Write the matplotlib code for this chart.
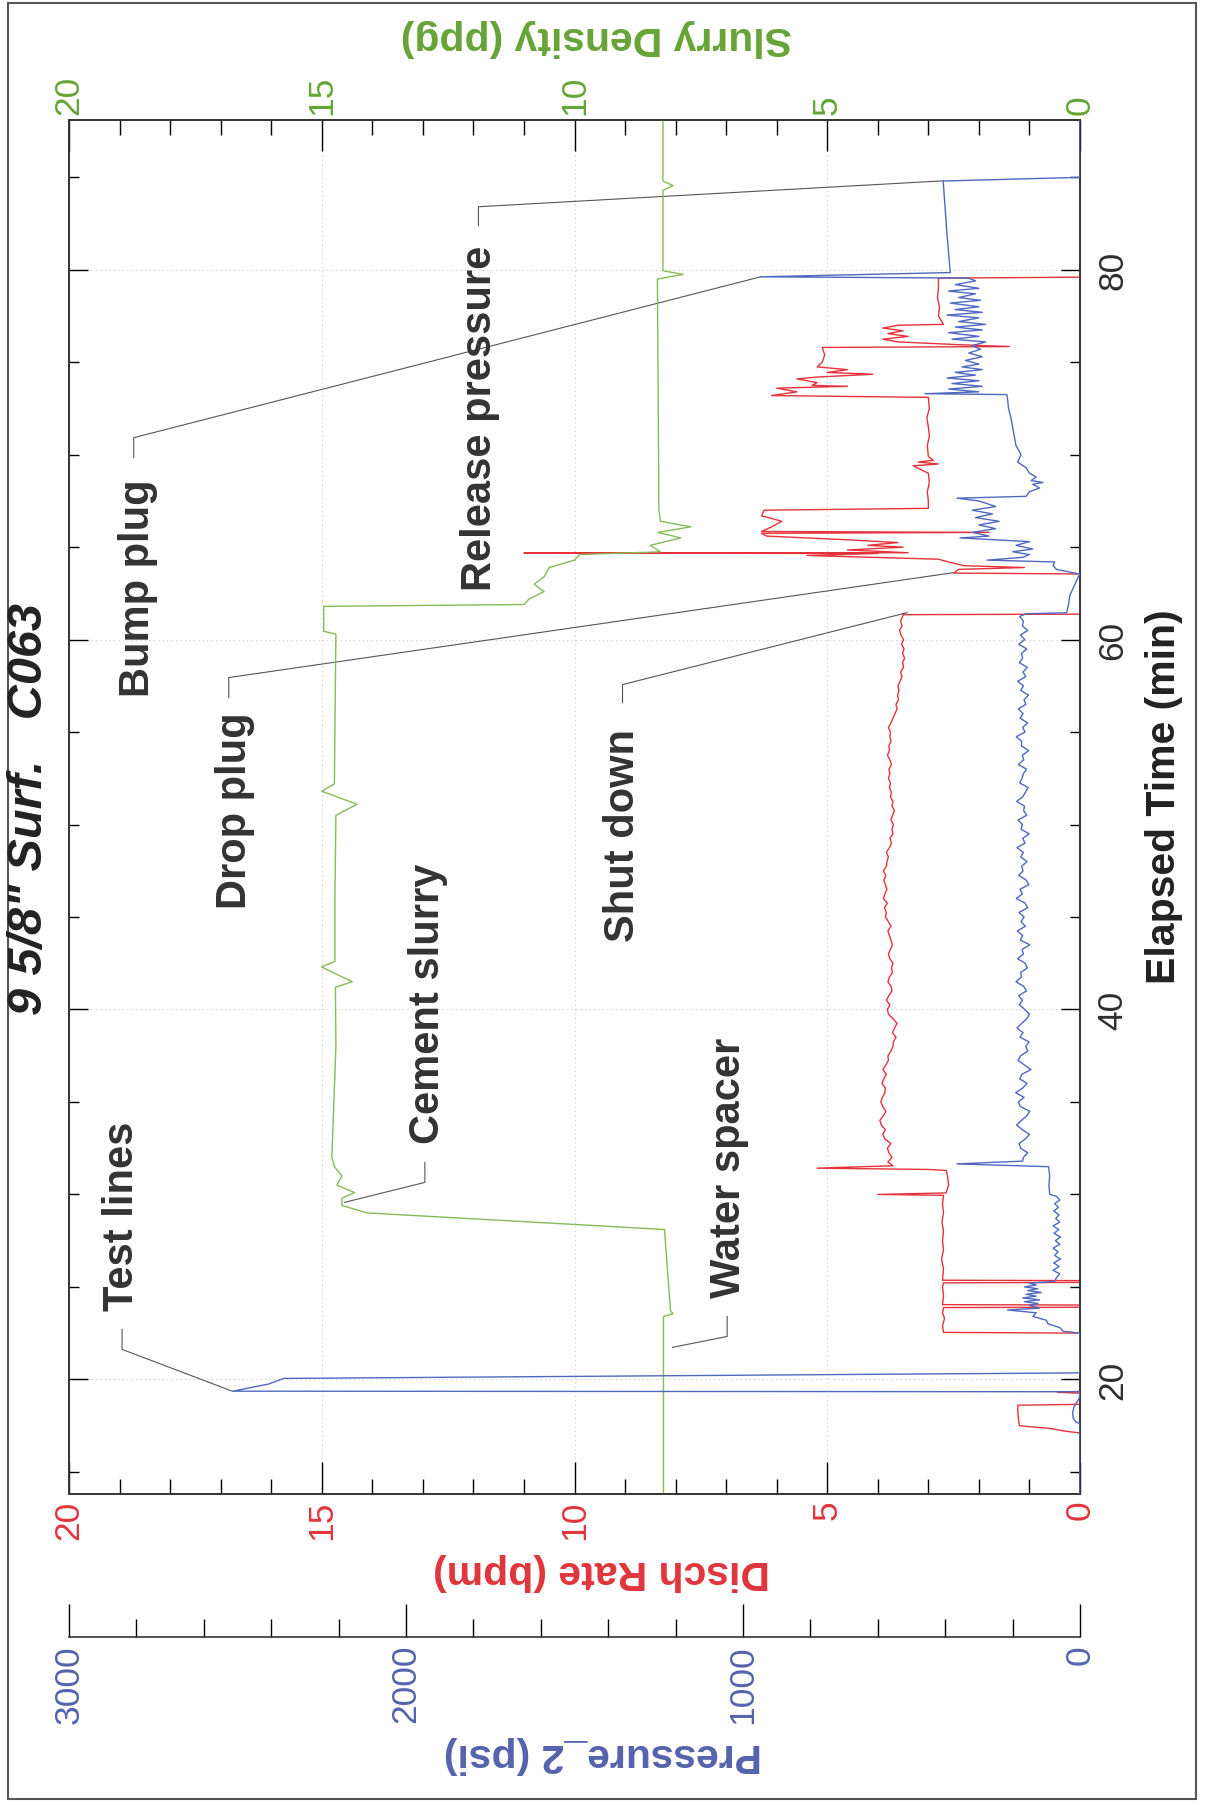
import numpy as np
import matplotlib.pyplot as plt
from matplotlib.ticker import MultipleLocator, FixedLocator
from matplotlib.patches import Rectangle

plt.rcParams['font.family'] = ['Liberation Sans', 'DejaVu Sans']

# ---------------- data ----------------
# slurry density (ppg) : (elapsed min, ppg)
density = [(13.8, 8.24), (23.4, 8.24), (23.55, 8.05), (23.7, 8.1), (28.1, 8.22),
           (28.3, 9.5), (29.0, 14.1), (29.4, 14.6), (29.8, 14.6), (30.1, 14.35),
           (30.5, 14.7), (31.0, 14.6), (31.5, 14.75), (32.0, 14.8), (35.0, 14.76),
           (38.0, 14.72), (41.2, 14.73), (41.5, 14.4), (42.3, 15.0), (42.6, 14.74),
           (46.0, 14.74), (50.5, 14.72), (51.1, 14.3), (51.8, 15.0), (52.2, 14.75),
           (55.0, 14.74), (60.3, 14.72), (60.45, 14.96), (61.8, 14.96), (61.9, 11.0),
           (62.2, 10.9), (62.6, 10.6), (63.0, 10.8), (63.4, 10.6), (63.9, 10.5),
           (64.3, 10.0), (64.6, 9.9), (64.75, 8.3), (65.1, 8.5), (65.5, 7.9),
           (65.8, 8.35), (66.1, 7.7), (66.4, 8.3), (67.0, 8.33), (79.5, 8.36),
           (79.75, 7.85), (79.95, 8.25), (84.3, 8.25), (84.55, 8.05), (84.8, 8.25),
           (88.1, 8.25)]

# disch rate (bpm) before and after the cement stage
rate_pre = [(13.8, 0), (17.1, 0), (17.2, 0.3), (17.35, 0.6), (17.45, 1.05), (17.5, 1.2),
            (17.9, 1.22), (18.3, 1.23), (18.6, 1.23), (18.65, 0), (19.25, 0), (19.3, 0.45),
            (19.35, 0), (22.5, 0), (22.54, 2.7), (22.9, 2.72), (23.3, 2.68), (23.6, 2.72),
            (23.88, 2.7), (23.9, 0), (24.02, 0), (24.04, 2.72), (24.5, 2.7), (25.0, 2.72),
            (25.22, 2.7), (25.24, 0), (25.34, 0), (25.36, 2.72), (26.0, 2.7), (26.5, 2.74),
            (27.0, 2.7), (27.5, 2.72), (28.0, 2.7), (28.5, 2.73), (29.0, 2.7), (29.5, 2.72),
            (29.95, 2.7), (30.0, 4.0), (30.08, 2.65), (30.5, 2.6), (31.0, 2.62), (31.3, 2.65),
            (31.35, 3.0), (31.42, 5.2), (31.55, 3.7), (31.75, 3.8)]
rate_post = [(61.35, 3.5), (61.38, 0), (63.55, 0), (63.6, 2.5), (63.8, 2.4), (63.9, 1.1),
             (64.0, 2.3), (64.2, 2.6), (64.35, 2.8), (64.55, 5.4), (64.66, 4.0), (64.68, 11.0),
             (64.70, 3.4), (64.85, 4.6), (65.0, 3.5), (65.1, 4.2), (65.25, 3.6), (65.4, 4.6),
             (65.6, 6.2), (65.75, 6.3), (65.8, 1.8), (65.85, 6.3), (66.1, 6.1), (66.4, 5.9),
             (66.7, 6.3), (67.0, 6.25), (67.1, 3.0), (67.5, 3.0), (68.0, 3.02), (68.5, 2.98),
             (69.0, 3.0), (69.4, 3.3), (69.5, 2.8), (69.6, 3.2), (69.7, 2.9), (69.9, 3.0),
             (70.5, 3.02), (71.0, 2.98), (71.5, 3.0), (72.0, 3.03), (72.5, 2.98), (73.1, 3.0),
             (73.2, 6.1), (73.4, 5.6), (73.6, 6.0), (73.7, 4.6), (73.75, 5.3), (73.9, 5.2),
             (74.1, 5.6), (74.2, 5.2), (74.35, 4.1), (74.45, 5.0), (74.6, 4.6), (74.75, 5.2),
             (75.0, 5.1), (75.4, 5.05), (75.8, 5.1), (75.85, 1.4), (75.95, 2.4), (76.1, 3.6),
             (76.25, 3.9), (76.4, 3.4), (76.55, 3.8), (76.7, 3.5), (76.85, 3.9), (77.0, 3.6),
             (77.05, 2.7), (77.5, 2.8), (78.0, 2.78), (78.5, 2.82), (79.0, 2.8), (79.55, 2.8),
             (79.6, 0), (88.1, 0)]

# pressure_2 (psi) before and after the cement stage
pres_pre = [(13.8, 0), (17.6, 0), (17.7, 12), (17.9, 20), (18.2, 22), (18.5, 18), (18.8, 8),
            (19.0, 2), (19.33, 0), (19.36, 2514), (19.75, 2407), (20.05, 2363), (20.35, 0),
            (22.5, 0), (22.6, 50), (22.8, 60), (23.0, 95), (23.2, 100), (23.4, 140), (23.6, 130),
            (23.75, 215), (23.85, 120), (24.0, 150), (24.1, 125), (24.2, 165), (24.3, 120),
            (24.4, 170), (24.5, 130), (24.6, 160), (24.7, 115), (24.8, 155), (24.9, 125),
            (25.0, 165), (25.1, 130), (25.2, 150), (25.3, 75), (25.5, 70), (25.7, 60), (25.9, 80),
            (26.1, 62), (26.3, 78), (26.5, 58), (26.7, 75), (26.9, 65), (27.1, 80), (27.3, 60),
            (27.5, 73), (27.7, 58), (27.9, 77), (28.1, 63), (28.3, 80), (28.5, 60), (28.7, 72),
            (28.9, 62), (29.1, 78), (29.3, 64), (29.5, 75), (29.7, 60), (29.9, 70), (30.0, 90),
            (30.5, 92), (31.0, 90), (31.5, 93), (31.65, 365), (31.8, 170)]
pres_post = [(61.4, 160), (61.45, 40), (61.8, 35), (62.4, 30), (63.0, 15), (63.4, 5), (63.55, 0),
             (63.65, 30), (63.8, 70), (64.0, 80), (64.2, 75), (64.3, 276), (64.45, 170),
             (64.6, 150), (64.75, 200), (64.9, 140), (65.1, 190), (65.3, 150), (65.5, 356),
             (65.6, 270), (65.8, 320), (66.0, 250), (66.2, 300), (66.4, 240), (66.6, 310),
             (66.8, 260), (67.0, 320), (67.2, 250), (67.5, 300), (67.65, 365), (67.75, 160),
             (68.0, 150), (68.2, 120), (68.4, 140), (68.5, 110), (68.6, 145), (68.8, 130),
             (69.0, 150), (69.3, 160), (69.6, 185), (70.0, 175), (70.5, 190), (71.0, 195),
             (71.5, 200), (72.0, 205), (72.5, 212), (73.0, 215), (73.25, 217), (73.3, 460),
             (73.4, 300), (73.55, 390), (73.7, 290), (73.85, 380), (74.0, 300), (74.15, 395),
             (74.3, 310), (74.45, 370), (74.6, 290), (74.75, 350), (74.9, 300), (75.1, 340),
             (75.3, 290), (75.5, 330), (75.7, 295), (75.9, 320), (76.1, 280), (76.25, 380),
             (76.4, 300), (76.6, 390), (76.75, 290), (76.9, 370), (77.05, 280), (77.2, 360),
             (77.4, 300), (77.55, 395), (77.7, 290), (77.85, 370), (78.0, 300), (78.2, 385),
             (78.35, 295), (78.5, 360), (78.7, 310), (78.85, 390), (79.0, 300), (79.2, 370),
             (79.4, 310), (79.55, 330), (79.62, 949), (79.85, 385), (82.0, 395), (84.8, 406),
             (85.0, 0), (88.1, 0)]

# cement stage, sampled every 15 s
cement_t = np.arange(32.0, 61.3, 0.25)
cement_rate = [3.72, 3.78, 3.81, 3.74, 3.86, 3.90, 3.85, 3.93, 3.96, 3.89, 3.84, 3.90,
               3.94, 3.91, 3.86, 3.85, 3.92, 3.88, 3.83, 3.90, 3.84, 3.79, 3.80, 3.74,
               3.70, 3.69, 3.64, 3.71, 3.67, 3.62, 3.70, 3.79, 3.81, 3.76, 3.83, 3.78,
               3.72, 3.74, 3.80, 3.77, 3.71, 3.73, 3.70, 3.76, 3.79, 3.75, 3.71, 3.74,
               3.77, 3.80, 3.74, 3.79, 3.85, 3.83, 3.87, 3.81, 3.89, 3.86, 3.82, 3.85,
               3.88, 3.84, 3.89, 3.83, 3.82, 3.79, 3.83, 3.77, 3.73, 3.76, 3.70, 3.72,
               3.69, 3.74, 3.71, 3.67, 3.72, 3.70, 3.75, 3.73, 3.77, 3.75, 3.79, 3.76,
               3.78, 3.73, 3.76, 3.81, 3.77, 3.78, 3.74, 3.76, 3.75, 3.79, 3.74, 3.70,
               3.66, 3.62, 3.64, 3.59, 3.61, 3.58, 3.60, 3.56, 3.52, 3.55, 3.49, 3.51,
               3.47, 3.51, 3.48, 3.53, 3.49, 3.54, 3.57, 3.52, 3.55, 3.51]
cement_pres = [168, 155, 176, 181, 162, 150, 171, 188, 174, 158, 149, 177,
               183, 166, 191, 170, 157, 179, 172, 146, 165, 184, 176, 155,
               161, 151, 178, 169, 187, 173, 158, 150, 164, 180, 171, 182,
               159, 167, 190, 174, 176, 156, 163, 185, 168, 172, 149, 177,
               170, 186, 162, 175, 166, 181, 155, 163, 189, 171, 178, 152,
               160, 182, 169, 173, 157, 176, 168, 187, 163, 170, 151, 175,
               171, 184, 158, 167, 165, 188, 170, 162, 154, 179, 172, 168,
               159, 183, 167, 171, 152, 174, 173, 189, 163, 170, 155, 178,
               169, 183, 161, 166, 153, 176, 168, 185, 161, 169, 156, 180,
               170, 174, 158, 182, 164, 177, 155, 171, 168, 179]

# event notes: text, (rate, time) of text centre, leader points
notes = [
    ('Test lines', 18.95, 28.86, [(18.95, 22.70), (18.95, 21.62), (16.76, 19.35)]),
    ('Water spacer', 6.94, 31.51, [(6.98, 23.41), (6.98, 22.32), (8.06, 21.73)]),
    ('Cement slurry', 12.89, 40.38, [(12.96, 31.73), (12.96, 30.65), (14.55, 29.57)]),
    ('Drop plug', 16.72, 50.81, [(16.84, 56.86), (16.84, 57.95), (2.51, 63.62)]),
    ('Shut down', 9.05, 49.46, [(9.05, 56.59), (9.05, 57.57), (3.42, 61.46)]),
    ('Bump plug', 18.64, 62.86, [(18.72, 69.84), (18.72, 70.92), (6.32, 79.62)]),
    ('Release pressure', 11.86, 72.0, [(11.90, 82.38), (11.90, 83.41), (2.71, 84.81)]),
]

# ---------------- colours ----------------
RED, RED_T = '#e5323a', '#e0353d'
BLUE, BLUE_T = '#5068c0', '#5562ad'
GREEN, GREEN_T = '#86bb55', '#66a436'
DARK = '#2e2e2e'

W, H = 1207, 1806
fig = plt.figure(figsize=(W / 100, H / 100), dpi=100)

# whole chart is drawn turned 90 degrees: time runs upward, values to the left
L, R, T, B = 69, 1080, 121, 1495
ax = fig.add_axes([L / W, 1 - B / H, (R - L) / W, (B - T) / H])
ax_d = ax.twiny()
ax_p = ax.twiny()

t_rate, v_rate = zip(*(rate_pre + list(zip(cement_t, cement_rate)) + rate_post))
t_pres, v_pres = zip(*(pres_pre + list(zip(cement_t, cement_pres)) + pres_post))
t_dens, v_dens = zip(*density)

ax_d.plot(v_dens, t_dens, color=GREEN, lw=1.0)
ax.plot(v_rate, t_rate, color=RED, lw=1.0, zorder=3)
ax_p.plot(v_pres, t_pres, color=BLUE, lw=1.0)

for a in (ax, ax_d):
    a.set_xlim(20, 0)
    a.xaxis.set_major_locator(MultipleLocator(5))
    a.xaxis.set_minor_locator(MultipleLocator(1))
ax.set_ylim(13.8, 88.1)
ax_p.set_xlim(3000, 0)
ax_p.xaxis.set_major_locator(MultipleLocator(1000))
ax_p.xaxis.set_minor_locator(MultipleLocator(200))

ax.yaxis.set_major_locator(FixedLocator([20, 40, 60, 80]))
ax.yaxis.set_minor_locator(MultipleLocator(5))

ax.grid(True, which='major', linestyle=(0, (1, 3)), color='#c9c9c9', lw=0.8)
ax.set_axisbelow(True)

lab = dict(labelsize=25.5, labelrotation=90)
ax.tick_params(axis='x', which='major', direction='in', length=23, width=1,
               top=False, labelcolor=RED_T, pad=4, **lab)
ax.tick_params(axis='x', which='minor', direction='in', length=11, width=1, top=False)
ax.tick_params(axis='y', which='major', direction='in', length=14, width=1,
               left=True, right=True, labelleft=False, labelright=True,
               labelcolor=DARK, pad=12, **lab)
ax.tick_params(axis='y', which='minor', direction='in', length=7, width=1,
               left=True, right=True)
plt.setp(ax.get_yticklabels(), va='center', ha='left')

ax_d.tick_params(axis='x', which='major', direction='in', length=22, width=1,
                 labelcolor=GREEN_T, pad=4, **lab)
ax_d.tick_params(axis='x', which='minor', direction='in', length=11, width=1)

ax_p.xaxis.set_ticks_position('bottom')
ax_p.xaxis.set_label_position('bottom')
ax_p.spines['bottom'].set_position(('outward', 103))
for s in ('top', 'left', 'right'):
    ax_p.spines[s].set_visible(False)
ax_p.tick_params(axis='x', which='major', direction='in', length=24, width=1,
                 labelcolor=BLUE_T, pad=5, **lab)
ax_p.tick_params(axis='x', which='minor', direction='in', length=13, width=1)

for a in (ax, ax_d, ax_p):
    for sp in a.spines.values():
        sp.set_linewidth(1.2)
        sp.set_color('#333333')

# event notes with leader lines
for text, x, y, pts in notes:
    px, py = zip(*pts)
    ax.plot(px, py, color='#555555', lw=0.8, zorder=4)
    ax.text(x, y, text, rotation=90, ha='center', va='center', fontsize=30,
            fontweight='bold', color='#333333', zorder=5)

# titles and axis names
fig.text(30 / W, 1 - 809 / H, '9 5/8" Surf.   C063', rotation=90, ha='center', va='center',
         fontsize=35, fontweight='bold', fontstyle='italic', color='#222222')
fig.text(596 / W, 1 - 38 / H, 'Slurry Density (ppg)', rotation=180, ha='center', va='center',
         fontsize=29.5, fontweight='bold', color=GREEN_T)
fig.text(602 / W, 1 - 1572 / H, 'Disch Rate (bpm)', rotation=180, ha='center', va='center',
         fontsize=29.5, fontweight='bold', color=RED_T)
fig.text(603 / W, 1 - 1755 / H, 'Pressure_2 (psi)', rotation=180, ha='center', va='center',
         fontsize=29.5, fontweight='bold', color=BLUE_T)
fig.text(1164 / W, 1 - 797 / H, 'Elapsed Time (min)', rotation=90, ha='center', va='center',
         fontsize=29.5, fontweight='bold', color='#222222')

# page frame
fig.patches.append(Rectangle((8 / W, 1 - 1800 / H), 1188 / W, 1796 / H, transform=fig.transFigure,
                             fill=False, edgecolor='#555555', lw=1.5))

fig.savefig('out.png', dpi=100)
